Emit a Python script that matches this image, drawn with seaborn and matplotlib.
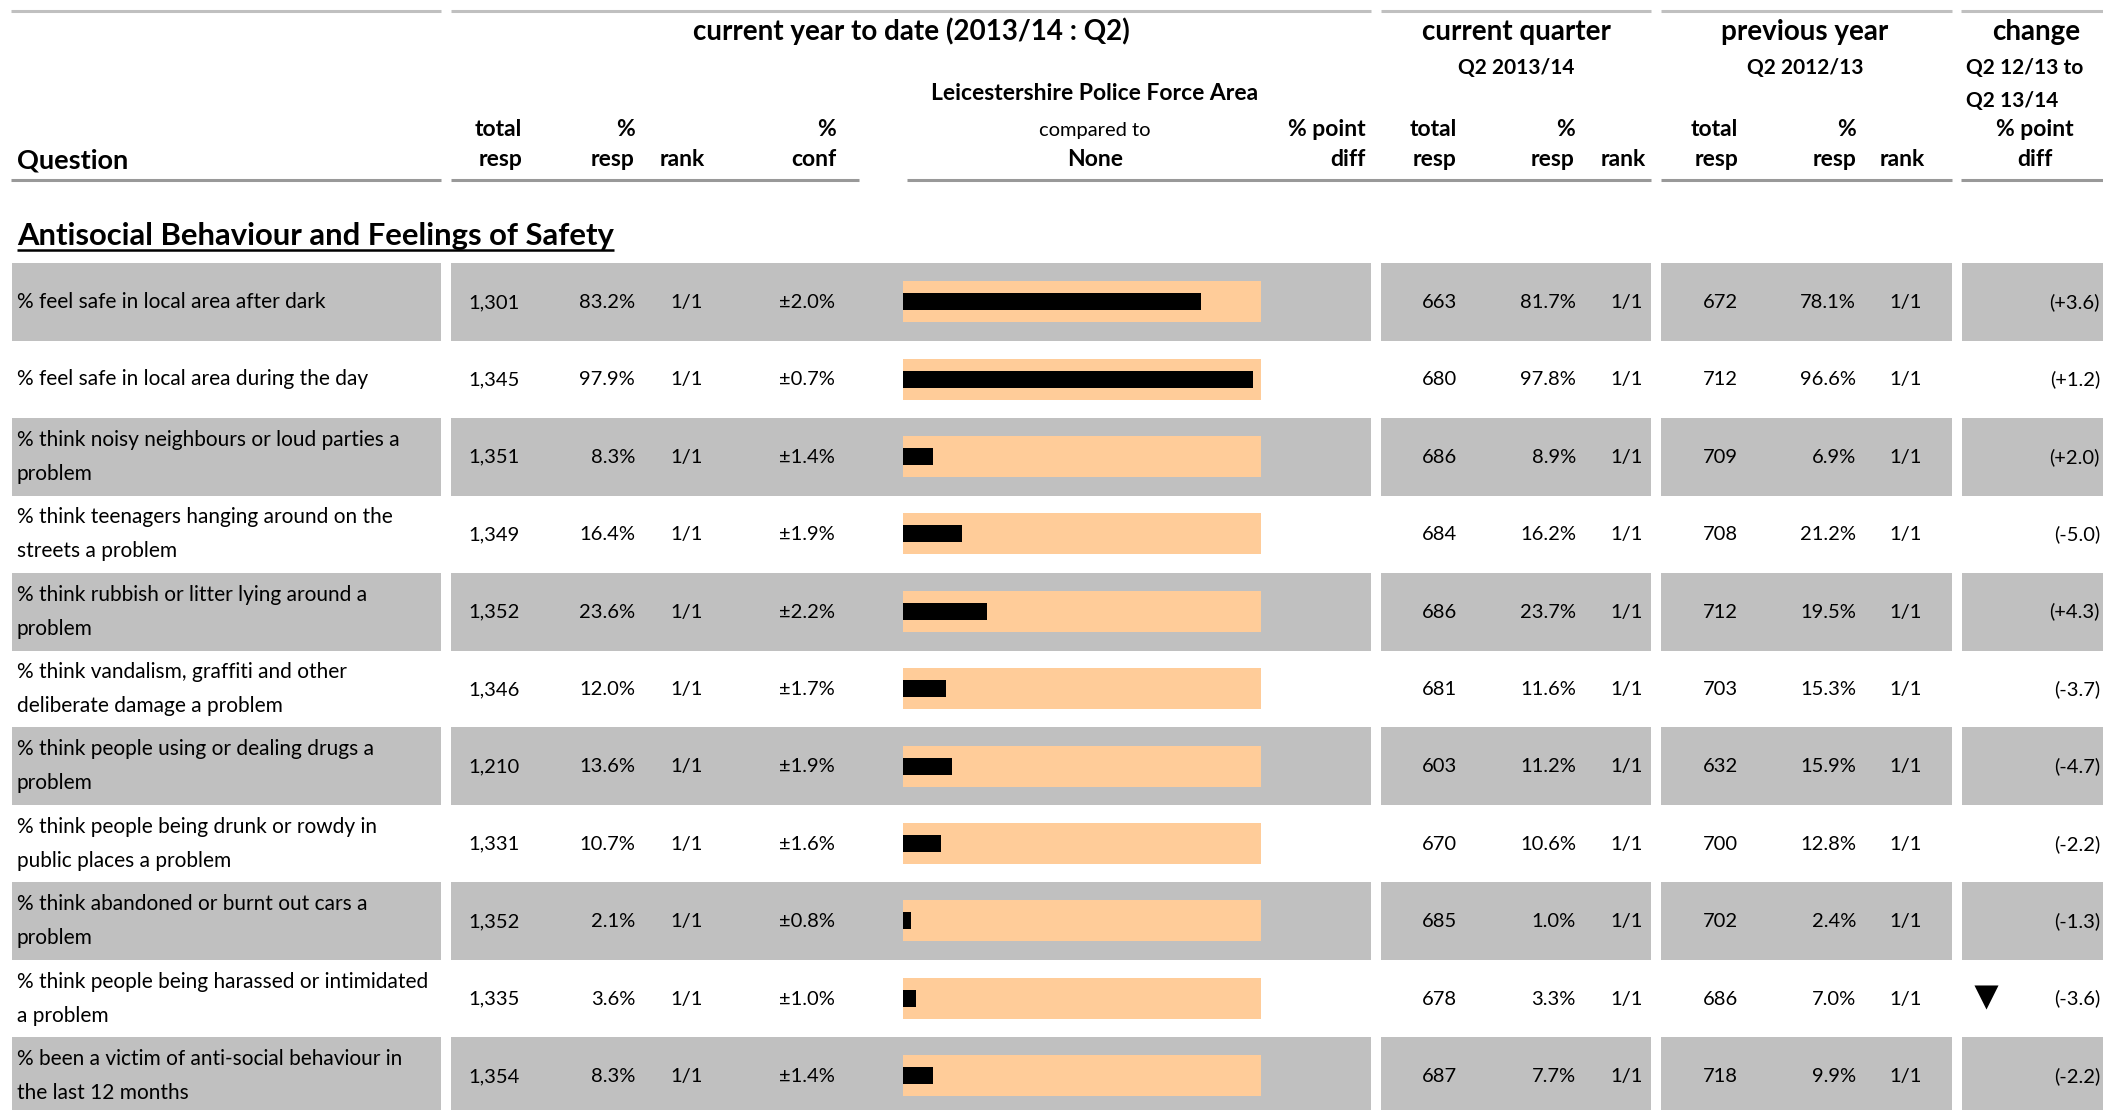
import matplotlib
matplotlib.use("Agg")
import matplotlib.pyplot as plt
import pandas as pd
import seaborn as sns
from matplotlib.patches import Rectangle

questions = [
    "% feel safe in local area after dark",
    "% feel safe in local area during the day",
    "% think noisy neighbours or loud parties a\nproblem",
    "% think teenagers hanging around on the\nstreets a problem",
    "% think rubbish or litter lying around a\nproblem",
    "% think vandalism, graffiti and other\ndeliberate damage a problem",
    "% think people using or dealing drugs a\nproblem",
    "% think people being drunk or rowdy in\npublic places a problem",
    "% think abandoned or burnt out cars a\nproblem",
    "% think people being harassed or intimidated\na problem",
    "% been a victim of anti-social behaviour in\nthe last 12 months",
]
ytd_total = [1301, 1345, 1351, 1349, 1352, 1346, 1210, 1331, 1352, 1335, 1354]
ytd_pct = [83.2, 97.9, 8.3, 16.4, 23.6, 12.0, 13.6, 10.7, 2.1, 3.6, 8.3]
ytd_rank = ["1/1"] * 11
ytd_conf = [2.0, 0.7, 1.4, 1.9, 2.2, 1.7, 1.9, 1.6, 0.8, 1.0, 1.4]
cq_total = [663, 680, 686, 684, 686, 681, 603, 670, 685, 678, 687]
cq_pct = [81.7, 97.8, 8.9, 16.2, 23.7, 11.6, 11.2, 10.6, 1.0, 3.3, 7.7]
cq_rank = ["1/1"] * 11
py_total = [672, 712, 709, 708, 712, 703, 632, 700, 702, 686, 718]
py_pct = [78.1, 96.6, 6.9, 21.2, 19.5, 15.3, 15.9, 12.8, 2.4, 7.0, 9.9]
py_rank = ["1/1"] * 11
change = [3.6, 1.2, 2.0, -5.0, 4.3, -3.7, -4.7, -2.2, -1.3, -3.6, -2.2]
sig_down = [False] * 9 + [True, False]

section_title = "Antisocial Behaviour and Feelings of Safety"

# ---- layout (pixels) ----
W, H = 2103, 1110
ROW_TOP, ROW_H, BAND_H = 263, 77.4, 78
GRAY, RULE_DARK, PEACH = "#c0c0c0", "#999999", "#FFCC99"
top_rules = [(11, 441), (451, 1371), (1381, 1651), (1661, 1952), (1961, 2103)]
bottom_rules = [(11, 441), (451, 859), (907, 1651), (1661, 1952), (1961, 2103)]
band_cols = [(12, 441), (451, 1371), (1381, 1651), (1661, 1952), (1962, 2103)]
BAR_X0, BAR_W = 903, 358

sns.set_theme(style="white")
plt.rcParams["font.family"] = ["Lato", "DejaVu Sans"]

n = len(questions)
fig = plt.figure(figsize=(W / 100, H / 100), dpi=100)
ax = fig.add_axes([0, 0, 1, 1])
ax.set_xlim(0, W)
ax.set_ylim(H, 0)
ax.axis("off")


def row_top(i):
    return ROW_TOP + i * ROW_H


def txt(x, y, s, ha="right", size=14.5, weight="normal"):
    return ax.text(x, y, s, ha=ha, va="baseline", fontsize=size,
                   fontweight=weight, color="black")


# header rules
for x0, x1 in top_rules:
    ax.plot([x0, x1], [10.5, 10.5], color=GRAY, lw=2.2, solid_capstyle="butt")
for x0, x1 in bottom_rules:
    ax.plot([x0, x1], [179.5, 179.5], color=RULE_DARK, lw=2.2, solid_capstyle="butt")

# header text
HB, SB = 20, 15
txt(911, 40, "current year to date (2013/14 : Q2)", "center", HB, "bold")
txt(1516, 40, "current quarter", "center", HB, "bold")
txt(1805, 40, "previous year", "center", HB, "bold")
txt(2036, 40, "change", "center", HB, "bold")
txt(1516, 74, "Q2 2013/14", "center", SB, "bold")
txt(1805, 74, "Q2 2012/13", "center", SB, "bold")
txt(1966, 74, "Q2 12/13 to", "left", SB, "bold")
txt(1966, 107, "Q2 13/14", "left", SB, "bold")
txt(1095, 100, "Leicestershire Police Force Area", "center", 16.5, "bold")
txt(17, 168, "Question", "left", 19.5, "bold")

L1, L2, CH = 136, 166, 16.5
for x, a, b in [(522, "total", "resp"), (635, "%", "resp"), (836, "%", "conf"),
                (1366, "% point", "diff"), (1457, "total", "resp"), (1575, "%", "resp"),
                (1738, "total", "resp"), (1856, "%", "resp")]:
    txt(x, L1, a, "right", CH, "bold")
    txt(x, L2, b, "right", CH, "bold")
for x in (705, 1646, 1925):
    txt(x, L2, "rank", "right", CH, "bold")
txt(1095, L1, "compared to", "center", 14.5, "normal")
txt(1095, L2, "None", "center", CH, "bold")
txt(2035, L1, "% point", "center", CH, "bold")
txt(2035, L2, "diff", "center", CH, "bold")

# section title with underline
st = txt(17, 245, section_title, "left", 22.3, "bold")
fig.canvas.draw()
bb = st.get_window_extent()
ax.plot([17, bb.x1], [249.5, 249.5], color="black", lw=1.8, solid_capstyle="butt")

# row bands
for i in range(0, n, 2):
    for x0, x1 in band_cols:
        ax.add_patch(Rectangle((x0, row_top(i)), x1 - x0, BAND_H, color=GRAY, lw=0))

# row text
QS = 15
for i in range(n):
    top = row_top(i)
    lines = questions[i].split("\n")
    if len(lines) == 1:
        txt(17, top + 45, lines[0], "left", QS)
    else:
        txt(17, top + 28, lines[0], "left", QS)
        txt(17, top + 62, lines[1], "left", QS)
    base = top + 45
    txt(520, base, f"{ytd_total[i]:,}")
    txt(635, base, f"{ytd_pct[i]:.1f}%")
    txt(703, base, ytd_rank[i])
    txt(835, base, f"±{ytd_conf[i]:.1f}%")
    txt(1457, base, f"{cq_total[i]:,}")
    txt(1576, base, f"{cq_pct[i]:.1f}%")
    txt(1643, base, cq_rank[i])
    txt(1738, base, f"{py_total[i]:,}")
    txt(1856, base, f"{py_pct[i]:.1f}%")
    txt(1922, base, py_rank[i])
    txt(2100, base, f"({change[i]:+.1f})")
    if sig_down[i]:
        ax.scatter([1986], [top + ROW_H / 2 - 1], marker="v", s=300,
                   color="black", linewidths=0, zorder=5)

# bar chart area: peach background (0-100%) with black % resp bar
bars = pd.DataFrame({"question": questions, "pct": ytd_pct, "full": [100] * n})
bx = fig.add_axes([BAR_X0 / W, 1 - (ROW_TOP + n * ROW_H) / H, BAR_W / W, n * ROW_H / H])
bx.patch.set_alpha(0)
sns.barplot(data=bars, x="full", y="question", color=PEACH, saturation=1,
            width=41 / ROW_H, errorbar=None, linewidth=0, ax=bx)
sns.barplot(data=bars, x="pct", y="question", color="black", saturation=1,
            width=17 / ROW_H, errorbar=None, linewidth=0, ax=bx)
bx.set_xlim(0, 100)
bx.set_ylim(n - 0.5, -0.5)
bx.axis("off")

fig.savefig("out.png", dpi=100)
